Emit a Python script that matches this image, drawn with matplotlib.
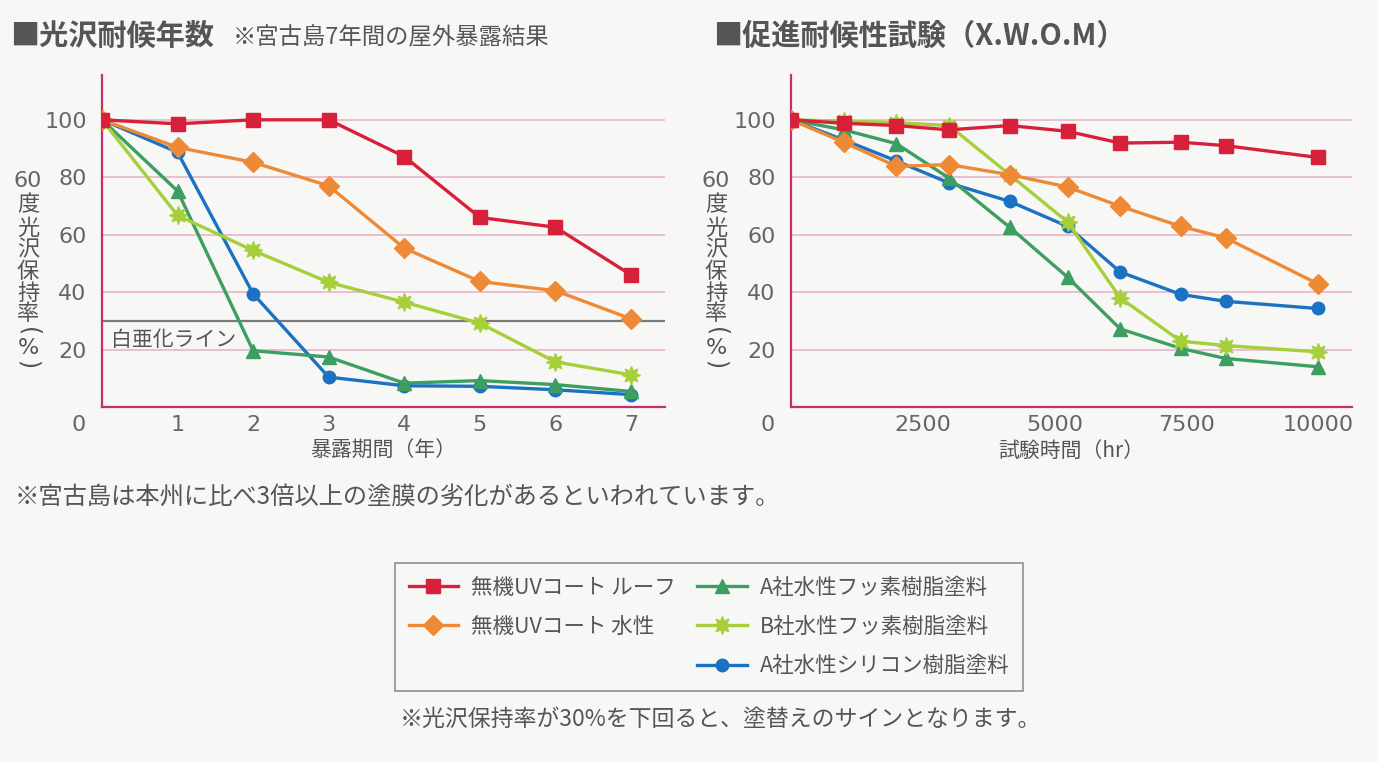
import matplotlib
matplotlib.use("Agg")
import matplotlib.pyplot as plt
from matplotlib.lines import Line2D

plt.rcParams['font.family'] = ['Noto Sans CJK JP', 'DejaVu Sans']

# --- data -------------------------------------------------------------
series_names = ['無機UVコート ルーフ', '無機UVコート 水性', 'A社水性フッ素樹脂塗料',
                'B社水性フッ素樹脂塗料', 'A社水性シリコン樹脂塗料']

years = [0, 1, 2, 3, 4, 5, 6, 7]
red_L = [100, 98.6, 100, 100, 87.2, 66, 62.6, 46]
orange_L = [100, 90.4, 85.2, 77, 55.3, 43.7, 40.5, 30.7]
greenA_L = [100, 75.2, 19.6, 17.4, 8.3, 9.2, 7.8, 5.4]
greenB_L = [100, 66.7, 54.5, 43.4, 36.5, 29.2, 15.7, 11.2]
blue_L = [100, 88.7, 39.4, 10.4, 7.4, 7.2, 6.0, 4.3]

hours = [0, 1000, 2000, 3000, 4150, 5250, 6250, 7400, 8250, 10000]
red_R = [100, 98.8, 98, 96.5, 98, 96, 91.9, 92.2, 91, 86.9]
orange_R = [100, 92.2, 83.8, 84.4, 80.9, 76.6, 69.9, 62.9, 58.9, 42.9]
greenA_R = [100, 96.5, 91.7, 79.7, 62.6, 45.2, 27.2, 20.4, 16.9, 14.0]
greenB_R = [100, 99.5, 99, 98, 80.9, 64.4, 38, 22.9, 21.4, 19.2]
blue_R = [100, 93, 85.7, 78, 71.6, 62.9, 47, 39.2, 36.8, 34.3]

chalk_line = 30
y_ticks = [20, 40, 60, 80, 100]
year_ticks = [1, 2, 3, 4, 5, 6, 7]
hour_ticks = [2500, 5000, 7500, 10000]

# --- styles -----------------------------------------------------------
colors = ['#d7203a', '#ee8a35', '#3d9e62', '#a6cf3a', '#1c72c2']
markers = ['s', 'D', '^', (8, 1, 0), 'o']
msizes = [10, 10, 10, 13, 9]
bg = '#f7f7f5'
spine_c = '#c42f6c'
grid_c = '#e9b9cc'
txt_c = '#555555'
num_c = '#666666'

fig = plt.figure(figsize=(13.78, 7.62), dpi=100, facecolor=bg)


def panel(rect, xs, data, xlim, xticks, xlabel, title, subtitle, ylab_x):
    ax = fig.add_axes(rect, facecolor=bg)
    for c in ['top', 'right']:
        ax.spines[c].set_visible(False)
    for c in ['left', 'bottom']:
        ax.spines[c].set_color(spine_c)
        ax.spines[c].set_linewidth(1.6)
    ax.set_xlim(*xlim)
    ax.set_ylim(0, 115.6)
    for y in y_ticks:
        ax.axhline(y, color=grid_c, lw=1.3, zorder=1)
    handles = []
    order = [4, 2, 3, 1, 0]
    for i in order:
        h, = ax.plot(xs, data[i], color=colors[i], marker=markers[i], ms=msizes[i],
                     lw=2.4, zorder=3 + order.index(i), label=series_names[i])
        handles.append(h)
    ax.set_yticks(y_ticks)
    ax.set_xticks(xticks)
    ax.tick_params(length=0, labelsize=16, labelcolor=num_c)
    ax.tick_params(axis='y', pad=11)
    ax.tick_params(axis='x', pad=6)
    for lab in ax.get_xticklabels() + ax.get_yticklabels():
        lab.set_family('DejaVu Sans')
    ax.annotate('0', xy=(0, 0), xycoords='axes fraction', xytext=(-17, -13),
                textcoords='offset points', ha='center', va='center',
                fontsize=16, color=num_c, family='DejaVu Sans')
    ax.set_xlabel(xlabel, fontsize=15, color=txt_c, labelpad=3)
    # vertical y label
    fig.text(ylab_x / 1378, 1 - 181 / 762, '60', fontsize=16, color=num_c,
             ha='center', va='center', family='DejaVu Sans')
    for ch, yy in zip('度光沢保持率', [205, 228, 250, 272, 293, 314]):
        fig.text(ylab_x / 1378, 1 - yy / 762, ch, fontsize=16,
                 color=txt_c, ha='center', va='center')
    fig.text(ylab_x / 1378, 1 - 332 / 762, '(', fontsize=17, color=txt_c,
             ha='center', va='center', rotation=-90, family='DejaVu Sans')
    fig.text(ylab_x / 1378, 1 - 348 / 762, '%', fontsize=16, color=txt_c,
             ha='center', va='center', family='DejaVu Sans')
    fig.text(ylab_x / 1378, 1 - 365 / 762, ')', fontsize=17, color=txt_c,
             ha='center', va='center', rotation=-90, family='DejaVu Sans')
    # title
    fig.text(title[1] / 1378, 1 - 36 / 762, title[0], fontsize=21, fontweight='bold',
             color=txt_c, ha='left', va='center')
    if subtitle:
        fig.text(subtitle[1] / 1378, 1 - 38 / 762, subtitle[0], fontsize=16.8,
                 color=txt_c, ha='left', va='center')
    return ax, handles


axL, hs = panel([102 / 1378, 1 - 407 / 762, 563 / 1378, 332 / 762], years,
                [red_L, orange_L, greenA_L, greenB_L, blue_L], (0, 7.45),
                year_ticks, '暴露期間（年）', ('■光沢耐候年数', 10),
                ('※宮古島7年間の屋外暴露結果', 233), 28)
axL.axhline(chalk_line, color='#7a7a7a', lw=1.6, zorder=2)
axL.text(0.12, chalk_line - 3.0, '白亜化ライン', fontsize=15, color=txt_c,
         ha='left', va='top')

axR, _ = panel([791 / 1378, 1 - 407 / 762, 561 / 1378, 332 / 762], hours,
               [red_R, orange_R, greenA_R, greenB_R, blue_R], (0, 10650),
               hour_ticks, '試験時間（hr）', ('■促進耐候性試験（X.W.O.M）', 713), None, 716)

fig.text(15 / 1378, 1 - 497 / 762, '※宮古島は本州に比べ3倍以上の塗膜の劣化があるといわれています。',
         fontsize=17.5, color=txt_c, ha='left', va='center')

# legend
by_name = {h.get_label(): h for h in hs}
blank = Line2D([], [], color='none', label=' ')
leg_handles = [by_name[series_names[0]], by_name[series_names[1]], blank,
               by_name[series_names[2]], by_name[series_names[3]], by_name[series_names[4]]]
leg = fig.legend(handles=leg_handles, loc='center', ncol=2,
                 bbox_to_anchor=(709 / 1378, 1 - 627 / 762), fontsize=15.5,
                 frameon=True, fancybox=False, edgecolor='#777777', facecolor=bg,
                 handlelength=2.3, handletextpad=0.6, columnspacing=1.0,
                 labelspacing=0.8, borderpad=0.65)
leg.get_frame().set_linewidth(1.2)
for t in leg.get_texts():
    t.set_color(txt_c)

fig.text(400 / 1378, 1 - 719 / 762, '※光沢保持率が30%を下回ると、塗替えのサインとなります。',
         fontsize=16.5, color=txt_c, ha='left', va='center')

fig.savefig('out.png', dpi=100, facecolor=bg)
